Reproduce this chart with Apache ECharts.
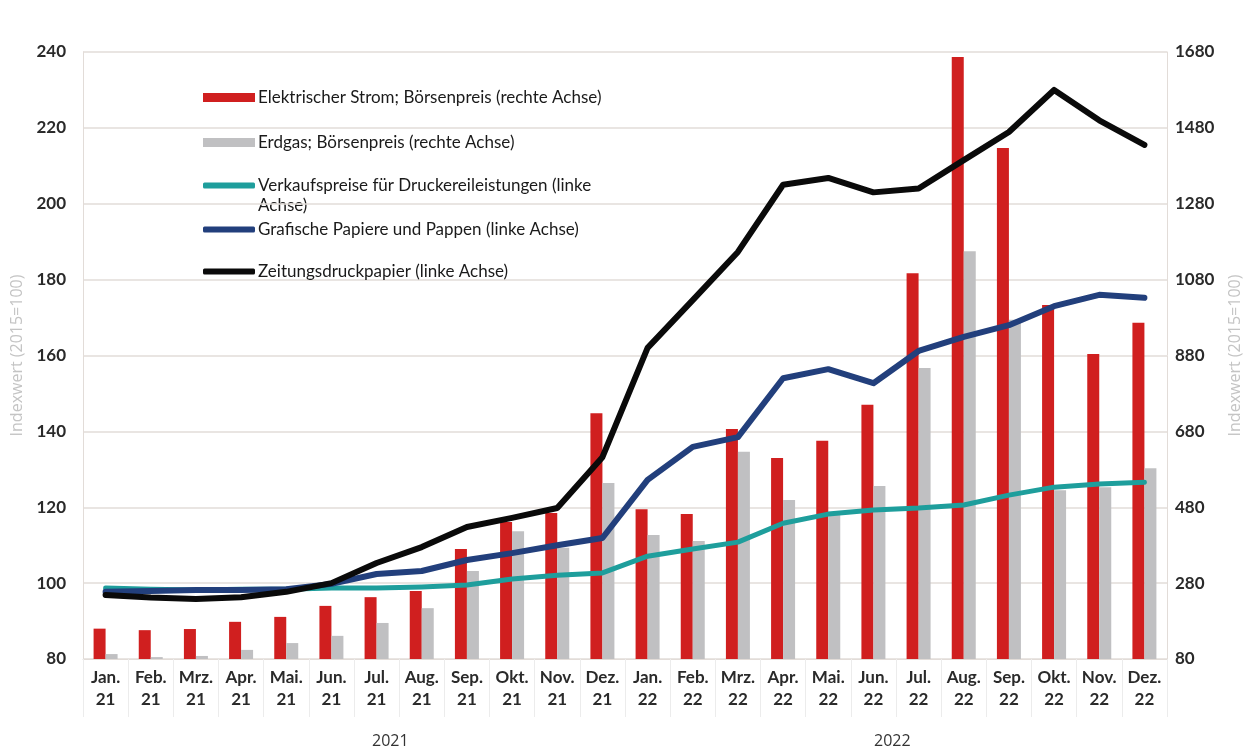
<!DOCTYPE html>
<html>
<head>
<meta charset="utf-8">
<script src="https://cdn.jsdelivr.net/npm/echarts@6/dist/echarts.min.js"></script>
<style>
  html, body { margin: 0; padding: 0; background: #fff; }
  #chart { width: 1251px; height: 752px; }
</style>
</head>
<body>
<div id="chart"></div>
<script>
// Monate / Jahre
const months = ['Jan.', 'Feb.', 'Mrz.', 'Apr.', 'Mai.', 'Jun.', 'Jul.', 'Aug.', 'Sep.', 'Okt.', 'Nov.', 'Dez.'];
const years = ['21', '22'];
const yearLabels = ['2021', '2022'];

// rechte Achse (Balken)
const strom = [160, 156, 159, 178, 191, 220, 243, 259, 370, 441, 465, 728,
               475, 462, 686, 610, 655, 750, 1097, 1667, 1427, 1013, 884, 966];
const erdgas = [93, 85, 88, 104, 122, 141, 175, 214, 312, 417, 373, 544,
                407, 391, 626, 499, 460, 536, 847, 1155, 974, 525, 533, 583];

// linke Achse (Linien)
const druck = [98.7, 98.4, 98.2, 98.4, 98.4, 98.7, 98.7, 99, 99.5, 101.1, 102.1, 102.7,
               107.1, 109, 110.8, 115.8, 118.2, 119.3, 119.8, 120.6, 123.2, 125.3, 126.1, 126.6];
const grafisch = [97.7, 97.9, 98.2, 98.2, 98.4, 99.8, 102.4, 103.2, 106.1, 107.9, 110, 111.9,
                  127.2, 135.9, 138.5, 154, 156.4, 152.7, 161.2, 164.9, 168, 173, 176, 175.2];
const zeitung = [96.9, 96.2, 95.8, 96.3, 97.7, 100, 105.3, 109.5, 114.8, 117.2, 119.8, 133.2,
                 162, 174.6, 187.3, 205, 206.8, 203, 204, 211.5, 218.9, 230, 222, 215.5];

const names = [
  'Elektrischer Strom; Börsenpreis (rechte Achse)',
  'Erdgas; Börsenpreis (rechte Achse)',
  'Verkaufspreise für Druckereileistungen (linke Achse)',
  'Grafische Papiere und Pappen (linke Achse)',
  'Zeitungsdruckpapier (linke Achse)'
];

const categories = [];
years.forEach(y => months.forEach(m => categories.push(m + '\n' + y)));

const font = 'Lato, "Open Sans", sans-serif';
const legendTops = [89, 134, 177, 221, 263];

const chart = echarts.init(document.getElementById('chart'));

const legends = names.map((n, i) => ({
  data: [n],
  left: 203,
  top: legendTops[i],
  padding: 0,
  itemWidth: 52,
  itemHeight: i < 2 ? 9 : 6,
  icon: i < 2 ? 'rect' : 'roundRect',
  selectedMode: false,
  formatter: i === 2 ? 'Verkaufspreise für Druckereileistungen (linke' : '{name}',
  textStyle: { fontFamily: font, fontSize: 17, color: '#1a1a1a', padding: [0, 0, 0, -2] }
}));

const option = {
  backgroundColor: '#fff',
  animation: false,
  legend: legends,
  grid: { left: 83, right: 80, top: 52, bottom: 93 },
  graphic: [
    { type: 'text', left: 258, top: 197, style: { text: 'Achse)', font: '17px ' + font, fill: '#1a1a1a' } },
    { type: 'text', left: 372, top: 733, style: { text: yearLabels[0], font: '16px "Open Sans", sans-serif', fill: '#333' } },
    { type: 'text', left: 874, top: 733, style: { text: yearLabels[1], font: '16px "Open Sans", sans-serif', fill: '#333' } }
  ],
  xAxis: {
    type: 'category',
    data: categories,
    axisLine: { show: true, lineStyle: { color: '#e2dcd8' } },
    axisTick: { show: true, interval: 0, length: 58, lineStyle: { color: '#ececec' } },
    axisLabel: {
      interval: 0,
      margin: 8,
      fontFamily: font,
      fontSize: 17,
      fontWeight: 'bold',
      lineHeight: 22,
      color: '#2a2a2a'
    }
  },
  yAxis: [
    {
      type: 'value',
      min: 80, max: 240, interval: 20,
      name: 'Indexwert (2015=100)',
      nameLocation: 'middle',
      nameRotate: 90,
      nameGap: 58,
      nameTextStyle: { fontFamily: '"Open Sans", sans-serif', fontSize: 16, color: '#c4c4c4' },
      axisLine: { show: true, lineStyle: { color: '#e2dcd8' } },
      axisTick: { show: false },
      axisLabel: { fontFamily: font, fontSize: 17, fontWeight: 'bold', color: '#2a2a2a', margin: 17 },
      splitLine: { lineStyle: { color: '#e2dcd8', width: 1.5 } }
    },
    {
      type: 'value',
      min: 80, max: 1680, interval: 200,
      name: 'Indexwert (2015=100)',
      nameLocation: 'middle',
      nameRotate: 90,
      nameGap: 60,
      nameTextStyle: { fontFamily: '"Open Sans", sans-serif', fontSize: 16, color: '#c4c4c4' },
      axisLine: { show: true, lineStyle: { color: '#e2dcd8' } },
      axisTick: { show: false },
      axisLabel: {
        fontFamily: font, fontSize: 17, fontWeight: 'bold', color: '#2a2a2a', margin: 8,
        formatter: v => String(v)
      },
      splitLine: { show: false }
    }
  ],
  series: [
    {
      name: names[0], type: 'bar', yAxisIndex: 1, data: strom,
      barWidth: 12, barGap: '0%',
      itemStyle: { color: '#d01f1f' }
    },
    {
      name: names[1], type: 'bar', yAxisIndex: 1, data: erdgas,
      barWidth: 12, barGap: '0%',
      itemStyle: { color: '#c0c0c2' }
    },
    {
      name: names[2], type: 'line', yAxisIndex: 0, data: druck,
      symbol: 'none', itemStyle: { color: '#1e9e9c' },
      lineStyle: { color: '#1e9e9c', width: 5, cap: 'round', join: 'round' }
    },
    {
      name: names[3], type: 'line', yAxisIndex: 0, data: grafisch,
      symbol: 'none', itemStyle: { color: '#223f7c' },
      lineStyle: { color: '#223f7c', width: 6, cap: 'round', join: 'round' }
    },
    {
      name: names[4], type: 'line', yAxisIndex: 0, data: zeitung,
      symbol: 'none', itemStyle: { color: '#0a0a0a' },
      lineStyle: { color: '#0a0a0a', width: 6, cap: 'round', join: 'round' }
    }
  ]
};

chart.setOption(option);
</script>
</body>
</html>
